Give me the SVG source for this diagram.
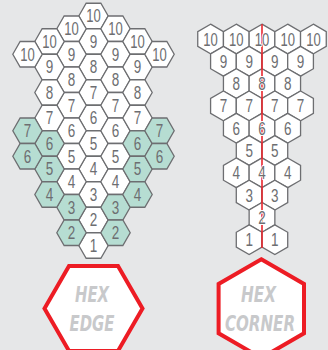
<svg xmlns="http://www.w3.org/2000/svg" xmlns:xlink="http://www.w3.org/1999/xlink" width="328" height="350" viewBox="0 0 328 350">
<defs>
<style>
.bg{fill:#e6e7e8}
.h{fill:#ffffff;stroke:#6d6e71;stroke-width:1.3;stroke-linejoin:miter}
.t{fill:#b6ddd2}
.n{font-family:"Liberation Sans Narrow","Liberation Sans",sans-serif;font-size:18px;fill:#6d6e71;text-anchor:middle}
.w{stroke:#ffffff;stroke-width:2;paint-order:stroke;stroke-linejoin:round}
.red{fill:none;stroke:#e8262d;stroke-width:1.6}
.big{fill:#ffffff;stroke:#ed1c24;stroke-width:4;stroke-linejoin:miter}
.lab{font-family:"DejaVu Sans Condensed","DejaVu Sans",sans-serif;font-weight:bold;font-style:italic;font-size:21px;fill:#c8c9cb;text-anchor:middle}
</style>
<polygon id="hf" points="-14.7,0 -7.35,-12.75 7.35,-12.75 14.7,0 7.35,12.75 -7.35,12.75"/>
<polygon id="hp" points="0,-14.85 12.86,-7.43 12.86,7.43 0,14.85 -12.86,7.43 -12.86,-7.43"/>
</defs>
<rect class="bg" x="0" y="0" width="328" height="350"/>

<!-- Left diagram: HEX EDGE -->
<g id="edge-grid">
<!-- column 0 -->
<g id="L0_0"><use xlink:href="#hf" class="h" x="93.5" y="16"/><text class="n" x="93.5" y="22.3" textLength="14.5" lengthAdjust="spacingAndGlyphs">10</text></g>
<g id="L0_2"><use xlink:href="#hf" class="h" x="93.5" y="41.5"/><text class="n" x="93.5" y="47.8" textLength="7.5" lengthAdjust="spacingAndGlyphs">9</text></g>
<g id="L0_4"><use xlink:href="#hf" class="h" x="93.5" y="67"/><text class="n" x="93.5" y="73.3" textLength="7.5" lengthAdjust="spacingAndGlyphs">8</text></g>
<g id="L0_6"><use xlink:href="#hf" class="h" x="93.5" y="92.5"/><text class="n" x="93.5" y="98.8" textLength="7.5" lengthAdjust="spacingAndGlyphs">7</text></g>
<g id="L0_8"><use xlink:href="#hf" class="h" x="93.5" y="118"/><text class="n" x="93.5" y="124.3" textLength="7.5" lengthAdjust="spacingAndGlyphs">6</text></g>
<g id="L0_10"><use xlink:href="#hf" class="h" x="93.5" y="143.5"/><text class="n" x="93.5" y="149.8" textLength="7.5" lengthAdjust="spacingAndGlyphs">5</text></g>
<g id="L0_12"><use xlink:href="#hf" class="h" x="93.5" y="169"/><text class="n" x="93.5" y="175.3" textLength="7.5" lengthAdjust="spacingAndGlyphs">4</text></g>
<g id="L0_14"><use xlink:href="#hf" class="h" x="93.5" y="194.5"/><text class="n" x="93.5" y="200.8" textLength="7.5" lengthAdjust="spacingAndGlyphs">3</text></g>
<g id="L0_16"><use xlink:href="#hf" class="h" x="93.5" y="220"/><text class="n" x="93.5" y="226.3" textLength="7.5" lengthAdjust="spacingAndGlyphs">2</text></g>
<g id="L0_18"><use xlink:href="#hf" class="h" x="93.5" y="245.5"/><text class="n" x="93.5" y="251.8" textLength="7.5" lengthAdjust="spacingAndGlyphs">1</text></g>
<!-- column -1 -->
<g id="Lm1_1"><use xlink:href="#hf" class="h" x="71.5" y="28.75"/><text class="n" x="71.5" y="35.05" textLength="14.5" lengthAdjust="spacingAndGlyphs">10</text></g>
<g id="Lm1_3"><use xlink:href="#hf" class="h" x="71.5" y="54.25"/><text class="n" x="71.5" y="60.55" textLength="7.5" lengthAdjust="spacingAndGlyphs">9</text></g>
<g id="Lm1_5"><use xlink:href="#hf" class="h" x="71.5" y="79.75"/><text class="n" x="71.5" y="86.05" textLength="7.5" lengthAdjust="spacingAndGlyphs">8</text></g>
<g id="Lm1_7"><use xlink:href="#hf" class="h" x="71.5" y="105.25"/><text class="n" x="71.5" y="111.55" textLength="7.5" lengthAdjust="spacingAndGlyphs">7</text></g>
<g id="Lm1_9"><use xlink:href="#hf" class="h" x="71.5" y="130.75"/><text class="n" x="71.5" y="137.05" textLength="7.5" lengthAdjust="spacingAndGlyphs">6</text></g>
<g id="Lm1_11"><use xlink:href="#hf" class="h" x="71.5" y="156.25"/><text class="n" x="71.5" y="162.55" textLength="7.5" lengthAdjust="spacingAndGlyphs">5</text></g>
<g id="Lm1_13"><use xlink:href="#hf" class="h" x="71.5" y="181.75"/><text class="n" x="71.5" y="188.05" textLength="7.5" lengthAdjust="spacingAndGlyphs">4</text></g>
<g id="Lm1_15"><use xlink:href="#hf" class="h t" x="71.5" y="207.25"/><text class="n" x="71.5" y="213.55" textLength="7.5" lengthAdjust="spacingAndGlyphs">3</text></g>
<g id="Lm1_17"><use xlink:href="#hf" class="h t" x="71.5" y="232.75"/><text class="n" x="71.5" y="239.05" textLength="7.5" lengthAdjust="spacingAndGlyphs">2</text></g>
<!-- column +1 -->
<g id="Lp1_1"><use xlink:href="#hf" class="h" x="115.5" y="28.75"/><text class="n" x="115.5" y="35.05" textLength="14.5" lengthAdjust="spacingAndGlyphs">10</text></g>
<g id="Lp1_3"><use xlink:href="#hf" class="h" x="115.5" y="54.25"/><text class="n" x="115.5" y="60.55" textLength="7.5" lengthAdjust="spacingAndGlyphs">9</text></g>
<g id="Lp1_5"><use xlink:href="#hf" class="h" x="115.5" y="79.75"/><text class="n" x="115.5" y="86.05" textLength="7.5" lengthAdjust="spacingAndGlyphs">8</text></g>
<g id="Lp1_7"><use xlink:href="#hf" class="h" x="115.5" y="105.25"/><text class="n" x="115.5" y="111.55" textLength="7.5" lengthAdjust="spacingAndGlyphs">7</text></g>
<g id="Lp1_9"><use xlink:href="#hf" class="h" x="115.5" y="130.75"/><text class="n" x="115.5" y="137.05" textLength="7.5" lengthAdjust="spacingAndGlyphs">6</text></g>
<g id="Lp1_11"><use xlink:href="#hf" class="h" x="115.5" y="156.25"/><text class="n" x="115.5" y="162.55" textLength="7.5" lengthAdjust="spacingAndGlyphs">5</text></g>
<g id="Lp1_13"><use xlink:href="#hf" class="h" x="115.5" y="181.75"/><text class="n" x="115.5" y="188.05" textLength="7.5" lengthAdjust="spacingAndGlyphs">4</text></g>
<g id="Lp1_15"><use xlink:href="#hf" class="h t" x="115.5" y="207.25"/><text class="n" x="115.5" y="213.55" textLength="7.5" lengthAdjust="spacingAndGlyphs">3</text></g>
<g id="Lp1_17"><use xlink:href="#hf" class="h t" x="115.5" y="232.75"/><text class="n" x="115.5" y="239.05" textLength="7.5" lengthAdjust="spacingAndGlyphs">2</text></g>
<!-- column -2 -->
<g id="Lm2_2"><use xlink:href="#hf" class="h" x="49.5" y="41.5"/><text class="n" x="49.5" y="47.8" textLength="14.5" lengthAdjust="spacingAndGlyphs">10</text></g>
<g id="Lm2_4"><use xlink:href="#hf" class="h" x="49.5" y="67"/><text class="n" x="49.5" y="73.3" textLength="7.5" lengthAdjust="spacingAndGlyphs">9</text></g>
<g id="Lm2_6"><use xlink:href="#hf" class="h" x="49.5" y="92.5"/><text class="n" x="49.5" y="98.8" textLength="7.5" lengthAdjust="spacingAndGlyphs">8</text></g>
<g id="Lm2_8"><use xlink:href="#hf" class="h" x="49.5" y="118"/><text class="n" x="49.5" y="124.3" textLength="7.5" lengthAdjust="spacingAndGlyphs">7</text></g>
<g id="Lm2_10"><use xlink:href="#hf" class="h t" x="49.5" y="143.5"/><text class="n" x="49.5" y="149.8" textLength="7.5" lengthAdjust="spacingAndGlyphs">6</text></g>
<g id="Lm2_12"><use xlink:href="#hf" class="h t" x="49.5" y="169"/><text class="n" x="49.5" y="175.3" textLength="7.5" lengthAdjust="spacingAndGlyphs">5</text></g>
<g id="Lm2_14"><use xlink:href="#hf" class="h t" x="49.5" y="194.5"/><text class="n" x="49.5" y="200.8" textLength="7.5" lengthAdjust="spacingAndGlyphs">4</text></g>
<!-- column +2 -->
<g id="Lp2_2"><use xlink:href="#hf" class="h" x="137.5" y="41.5"/><text class="n" x="137.5" y="47.8" textLength="14.5" lengthAdjust="spacingAndGlyphs">10</text></g>
<g id="Lp2_4"><use xlink:href="#hf" class="h" x="137.5" y="67"/><text class="n" x="137.5" y="73.3" textLength="7.5" lengthAdjust="spacingAndGlyphs">9</text></g>
<g id="Lp2_6"><use xlink:href="#hf" class="h" x="137.5" y="92.5"/><text class="n" x="137.5" y="98.8" textLength="7.5" lengthAdjust="spacingAndGlyphs">8</text></g>
<g id="Lp2_8"><use xlink:href="#hf" class="h" x="137.5" y="118"/><text class="n" x="137.5" y="124.3" textLength="7.5" lengthAdjust="spacingAndGlyphs">7</text></g>
<g id="Lp2_10"><use xlink:href="#hf" class="h t" x="137.5" y="143.5"/><text class="n" x="137.5" y="149.8" textLength="7.5" lengthAdjust="spacingAndGlyphs">6</text></g>
<g id="Lp2_12"><use xlink:href="#hf" class="h t" x="137.5" y="169"/><text class="n" x="137.5" y="175.3" textLength="7.5" lengthAdjust="spacingAndGlyphs">5</text></g>
<g id="Lp2_14"><use xlink:href="#hf" class="h t" x="137.5" y="194.5"/><text class="n" x="137.5" y="200.8" textLength="7.5" lengthAdjust="spacingAndGlyphs">4</text></g>
<!-- column -3 -->
<g id="Lm3_3"><use xlink:href="#hf" class="h" x="27.5" y="54.25"/><text class="n" x="27.5" y="60.55" textLength="14.5" lengthAdjust="spacingAndGlyphs">10</text></g>
<g id="Lm3_9"><use xlink:href="#hf" class="h t" x="27.5" y="130.75"/><text class="n" x="27.5" y="137.05" textLength="7.5" lengthAdjust="spacingAndGlyphs">7</text></g>
<g id="Lm3_11"><use xlink:href="#hf" class="h t" x="27.5" y="156.25"/><text class="n" x="27.5" y="162.55" textLength="7.5" lengthAdjust="spacingAndGlyphs">6</text></g>
<!-- column +3 -->
<g id="Lp3_3"><use xlink:href="#hf" class="h" x="159.5" y="54.25"/><text class="n" x="159.5" y="60.55" textLength="14.5" lengthAdjust="spacingAndGlyphs">10</text></g>
<g id="Lp3_9"><use xlink:href="#hf" class="h t" x="159.5" y="130.75"/><text class="n" x="159.5" y="137.05" textLength="7.5" lengthAdjust="spacingAndGlyphs">7</text></g>
<g id="Lp3_11"><use xlink:href="#hf" class="h t" x="159.5" y="156.25"/><text class="n" x="159.5" y="162.55" textLength="7.5" lengthAdjust="spacingAndGlyphs">6</text></g>
</g>

<!-- Right diagram: HEX CORNER -->
<g id="corner-grid">
<g id="R0_a"><use xlink:href="#hp" class="h" x="210.6" y="39"/></g>
<g id="R0_b"><use xlink:href="#hp" class="h" x="236.3" y="39"/></g>
<g id="R0_c"><use xlink:href="#hp" class="h" x="262" y="39"/></g>
<g id="R0_d"><use xlink:href="#hp" class="h" x="287.7" y="39"/></g>
<g id="R0_e"><use xlink:href="#hp" class="h" x="313.4" y="39"/></g>
<g id="R1_a"><use xlink:href="#hp" class="h" x="223.45" y="61.3"/></g>
<g id="R1_b"><use xlink:href="#hp" class="h" x="249.15" y="61.3"/></g>
<g id="R1_c"><use xlink:href="#hp" class="h" x="274.85" y="61.3"/></g>
<g id="R1_d"><use xlink:href="#hp" class="h" x="300.55" y="61.3"/></g>
<g id="R2_a"><use xlink:href="#hp" class="h" x="236.3" y="83.6"/></g>
<g id="R2_b"><use xlink:href="#hp" class="h" x="262" y="83.6"/></g>
<g id="R2_c"><use xlink:href="#hp" class="h" x="287.7" y="83.6"/></g>
<g id="R3_a"><use xlink:href="#hp" class="h" x="223.45" y="105.9"/></g>
<g id="R3_b"><use xlink:href="#hp" class="h" x="249.15" y="105.9"/></g>
<g id="R3_c"><use xlink:href="#hp" class="h" x="274.85" y="105.9"/></g>
<g id="R3_d"><use xlink:href="#hp" class="h" x="300.55" y="105.9"/></g>
<g id="R4_a"><use xlink:href="#hp" class="h" x="236.3" y="128.2"/></g>
<g id="R4_b"><use xlink:href="#hp" class="h" x="262" y="128.2"/></g>
<g id="R4_c"><use xlink:href="#hp" class="h" x="287.7" y="128.2"/></g>
<g id="R5_a"><use xlink:href="#hp" class="h" x="249.15" y="150.5"/></g>
<g id="R5_b"><use xlink:href="#hp" class="h" x="274.85" y="150.5"/></g>
<g id="R6_a"><use xlink:href="#hp" class="h" x="236.3" y="172.8"/></g>
<g id="R6_b"><use xlink:href="#hp" class="h" x="262" y="172.8"/></g>
<g id="R6_c"><use xlink:href="#hp" class="h" x="287.7" y="172.8"/></g>
<g id="R7_a"><use xlink:href="#hp" class="h" x="249.15" y="195.1"/></g>
<g id="R7_b"><use xlink:href="#hp" class="h" x="274.85" y="195.1"/></g>
<g id="R8_a"><use xlink:href="#hp" class="h" x="262" y="217.4"/></g>
<g id="R9_a"><use xlink:href="#hp" class="h" x="249.15" y="239.7"/></g>
<g id="R9_b"><use xlink:href="#hp" class="h" x="274.85" y="239.7"/></g>
</g>

<g id="connectors">
<line class="red" x1="262" y1="24.2" x2="262" y2="248"/>
</g>

<g id="corner-labels">
<text class="n w" x="210.6" y="45.5" textLength="14.5" lengthAdjust="spacingAndGlyphs">10</text>
<text class="n w" x="236.3" y="45.5" textLength="14.5" lengthAdjust="spacingAndGlyphs">10</text>
<text class="n w" x="262" y="45.5" textLength="14.5" lengthAdjust="spacingAndGlyphs">10</text>
<text class="n w" x="287.7" y="45.5" textLength="14.5" lengthAdjust="spacingAndGlyphs">10</text>
<text class="n w" x="313.4" y="45.5" textLength="14.5" lengthAdjust="spacingAndGlyphs">10</text>
<text class="n w" x="223.45" y="67.8" textLength="7.5" lengthAdjust="spacingAndGlyphs">9</text>
<text class="n w" x="249.15" y="67.8" textLength="7.5" lengthAdjust="spacingAndGlyphs">9</text>
<text class="n w" x="274.85" y="67.8" textLength="7.5" lengthAdjust="spacingAndGlyphs">9</text>
<text class="n w" x="300.55" y="67.8" textLength="7.5" lengthAdjust="spacingAndGlyphs">9</text>
<text class="n w" x="236.3" y="90.1" textLength="7.5" lengthAdjust="spacingAndGlyphs">8</text>
<text class="n w" x="262" y="90.1" textLength="7.5" lengthAdjust="spacingAndGlyphs">8</text>
<text class="n w" x="287.7" y="90.1" textLength="7.5" lengthAdjust="spacingAndGlyphs">8</text>
<text class="n w" x="223.45" y="112.4" textLength="7.5" lengthAdjust="spacingAndGlyphs">7</text>
<text class="n w" x="249.15" y="112.4" textLength="7.5" lengthAdjust="spacingAndGlyphs">7</text>
<text class="n w" x="274.85" y="112.4" textLength="7.5" lengthAdjust="spacingAndGlyphs">7</text>
<text class="n w" x="300.55" y="112.4" textLength="7.5" lengthAdjust="spacingAndGlyphs">7</text>
<text class="n w" x="236.3" y="134.7" textLength="7.5" lengthAdjust="spacingAndGlyphs">6</text>
<text class="n w" x="262" y="134.7" textLength="7.5" lengthAdjust="spacingAndGlyphs">6</text>
<text class="n w" x="287.7" y="134.7" textLength="7.5" lengthAdjust="spacingAndGlyphs">6</text>
<text class="n w" x="249.15" y="157" textLength="7.5" lengthAdjust="spacingAndGlyphs">5</text>
<text class="n w" x="274.85" y="157" textLength="7.5" lengthAdjust="spacingAndGlyphs">5</text>
<text class="n w" x="236.3" y="179.3" textLength="7.5" lengthAdjust="spacingAndGlyphs">4</text>
<text class="n w" x="262" y="179.3" textLength="7.5" lengthAdjust="spacingAndGlyphs">4</text>
<text class="n w" x="287.7" y="179.3" textLength="7.5" lengthAdjust="spacingAndGlyphs">4</text>
<text class="n w" x="249.15" y="201.6" textLength="7.5" lengthAdjust="spacingAndGlyphs">3</text>
<text class="n w" x="274.85" y="201.6" textLength="7.5" lengthAdjust="spacingAndGlyphs">3</text>
<text class="n w" x="262" y="223.9" textLength="7.5" lengthAdjust="spacingAndGlyphs">2</text>
<text class="n w" x="249.15" y="246.2" textLength="7.5" lengthAdjust="spacingAndGlyphs">1</text>
<text class="n w" x="274.85" y="246.2" textLength="7.5" lengthAdjust="spacingAndGlyphs">1</text>
</g>

<!-- Legend hexes -->
<g id="hex-edge">
<polygon class="big" points="44.5,308.5 69,266.1 118,266.1 142.5,308.5 118,350.9 69,350.9"/>
<text class="lab" x="92" y="301.5" textLength="34" lengthAdjust="spacingAndGlyphs">HEX</text>
<text class="lab" x="92" y="331" textLength="45" lengthAdjust="spacingAndGlyphs">EDGE</text>
</g>
<g id="hex-corner">
<polygon class="big" points="261.3,259.3 304,284 304,333.3 261.3,358 218.6,333.3 218.6,284"/>
<text class="lab" x="258.5" y="301.5" textLength="35" lengthAdjust="spacingAndGlyphs">HEX</text>
<text class="lab" x="260" y="330.7" textLength="70" lengthAdjust="spacingAndGlyphs">CORNER</text>
</g>
</svg>
